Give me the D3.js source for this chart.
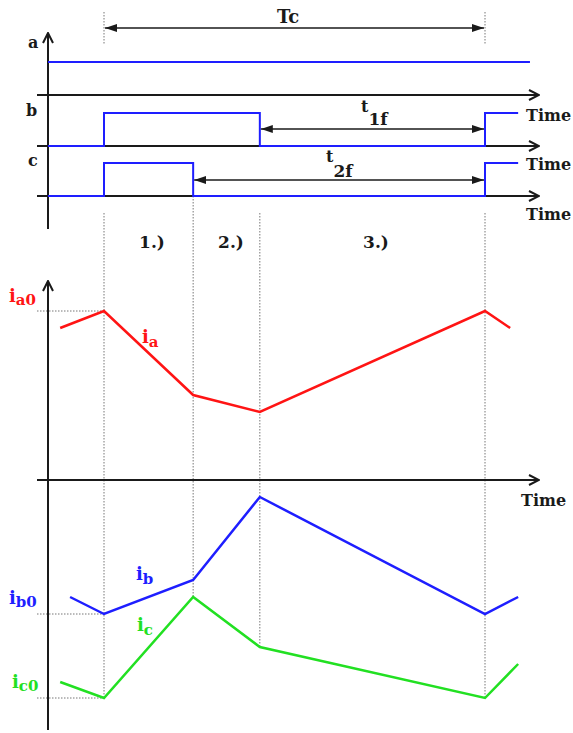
<!DOCTYPE html>
<html>
<head>
<meta charset="utf-8">
<script src="https://cdn.jsdelivr.net/npm/d3@7"></script>
<style>
  body { margin: 0; background: #fff; }
  text { font-family: "DejaVu Serif", "Liberation Serif", serif; font-weight: bold; }
</style>
</head>
<body>
<svg id="chart" width="573" height="733"></svg>
<script>
// Switching instants within one period (period Tc = 100 time units)
const tEdges = [0, 23.4, 40.9, 100];
const phaseLabels = ["1.)", "2.)", "3.)"];
const gateNames = ["a", "b", "c"];

// Gate signals as [time, level] steps
const gateA = [[-14.7, 1], [111.8, 1]];
const gateB = [[-14.7, 0], [0, 0], [0, 1], [40.9, 1], [40.9, 0], [100, 0], [100, 1], [108.7, 1]];
const gateC = [[-14.7, 0], [0, 0], [0, 1], [23.4, 1], [23.4, 0], [100, 0], [100, 1], [108.7, 1]];

// Phase currents
const iaTimes = [-11.5, 0, 23.4, 40.9, 100, 106.6];
const iaValues = [15.2, 16.9, 8.5, 6.8, 16.9, 15.2];
const ibTimes = [-8.9, 0, 23.4, 40.9, 100, 108.7];
const ibValues = [-11.7, -13.4, -10.0, -1.7, -13.4, -11.7];
const icTimes = [-11.5, 0, 23.4, 40.9, 100, 108.7];
const icValues = [-20.2, -21.8, -11.7, -16.7, -21.8, -18.4];
const initialValues = { ia0: 16.9, ib0: -13.4, ic0: -21.8 };

const RED = "#ff1414", BLUE = "#1e1eff", GREEN = "#22e022", AX = "#1a1a1a", DOT = "#777";

const svg = d3.select("#chart");

// Time scale shared by every panel
const x = d3.scaleLinear().domain([0, 100]).range([104, 485]);
const x0 = 48;        // vertical axis position
const xAxisEnd = 539; // tip of the time axes

// Gate lanes: baseline pixel and a 0/1 level scale each
const laneBase = [95, 146, 196];
const laneScales = laneBase.map(b => d3.scaleLinear().domain([0, 1]).range([b, b - 33]));

// Current panel
const yI = d3.scaleLinear().domain([0, 10]).range([480, 380]);

// Markers
const defs = svg.append("defs");
defs.append("marker").attr("id", "open").attr("viewBox", "0 0 12 12")
  .attr("refX", 11).attr("refY", 6).attr("markerWidth", 12).attr("markerHeight", 12)
  .attr("markerUnits", "userSpaceOnUse").attr("orient", "auto")
  .append("path").attr("d", "M1,1 L11,6 L1,11").attr("fill", "none")
  .attr("stroke", AX).attr("stroke-width", 2);
defs.append("marker").attr("id", "solid").attr("viewBox", "0 0 12 8")
  .attr("refX", 12).attr("refY", 4).attr("markerWidth", 12).attr("markerHeight", 8)
  .attr("markerUnits", "userSpaceOnUse").attr("orient", "auto-start-reverse")
  .append("path").attr("d", "M0,0 L12,4 L0,8 Z").attr("fill", AX);

const line = d3.line();

// Dotted guides at the switching instants
const guides = svg.append("g").attr("stroke", DOT).attr("stroke-width", 1)
  .attr("stroke-dasharray", "1.5,1.5");
[[0, 12, 45], [100, 12, 45]].forEach(([t, a, b]) =>
  guides.append("line").attr("x1", x(t)).attr("x2", x(t)).attr("y1", a).attr("y2", b));
guides.append("line").attr("x1", x(0)).attr("x2", x(0)).attr("y1", 213).attr("y2", yI(initialValues.ic0));
guides.append("line").attr("x1", x(23.4)).attr("x2", x(23.4)).attr("y1", laneBase[2]).attr("y2", yI(icValues[2]));
guides.append("line").attr("x1", x(40.9)).attr("x2", x(40.9)).attr("y1", 213).attr("y2", yI(icValues[3]));
guides.append("line").attr("x1", x(100)).attr("x2", x(100)).attr("y1", 213).attr("y2", yI(initialValues.ic0));
["ia0", "ib0", "ic0"].forEach(k =>
  guides.append("line").attr("x1", 37).attr("x2", x(0))
    .attr("y1", yI(initialValues[k])).attr("y2", yI(initialValues[k])));

// Axes
const axes = svg.append("g").attr("stroke", AX).attr("stroke-width", 2).attr("fill", "none");
axes.append("line").attr("x1", x0).attr("x2", x0).attr("y1", 229).attr("y2", 33).attr("marker-end", "url(#open)");
laneBase.forEach(b =>
  axes.append("line").attr("x1", 37).attr("x2", xAxisEnd).attr("y1", b).attr("y2", b).attr("marker-end", "url(#open)"));
axes.append("line").attr("x1", x0).attr("x2", x0).attr("y1", 730).attr("y2", 281).attr("marker-end", "url(#open)");
axes.append("line").attr("x1", 37).attr("x2", xAxisEnd).attr("y1", yI(0)).attr("y2", yI(0)).attr("marker-end", "url(#open)");

// Gate signals
[gateA, gateB, gateC].forEach((g, i) => {
  svg.append("path")
    .attr("d", line(g.map(([t, v]) => [x(t), laneScales[i](v)])))
    .attr("fill", "none").attr("stroke", BLUE).attr("stroke-width", 2);
});

// Interval arrows
const spans = [
  { from: 0, to: 100, y: 28 },
  { from: 40.9, to: 100, y: 129 },
  { from: 23.4, to: 100, y: 180 }
];
spans.forEach(s =>
  svg.append("line").attr("x1", x(s.from) + 1).attr("x2", x(s.to) - 1).attr("y1", s.y).attr("y2", s.y)
    .attr("stroke", AX).attr("stroke-width", 1.5)
    .attr("marker-start", "url(#solid)").attr("marker-end", "url(#solid)"));

// Currents
[[iaTimes, iaValues, RED], [ibTimes, ibValues, BLUE], [icTimes, icValues, GREEN]].forEach(([ts, vs, c]) =>
  svg.append("path")
    .attr("d", line(ts.map((t, i) => [x(t), yI(vs[i])])))
    .attr("fill", "none").attr("stroke", c).attr("stroke-width", 2.5).attr("stroke-linejoin", "miter"));

// Texts
const txt = (xp, yp, s, size, color) =>
  svg.append("text").attr("x", xp).attr("y", yp).attr("font-size", size).attr("fill", color || AX).text(s);

txt(277, 23, "Tc", 18);
txt(28, 48, gateNames[0], 16);
txt(26, 116, gateNames[1], 16);
txt(28, 166, gateNames[2], 16);
[121, 170, 220].forEach(yp => txt(526, yp, "Time", 16));
txt(521, 506, "Time", 16);

// phase numbers centred in their intervals
const phaseX = [152, 231, 376];
phaseLabels.forEach((p, i) => txt(phaseX[i], 248, p, 17).attr("text-anchor", "middle"));

// subscripted labels
function sub(xp, yp, base, subs, color, baseSize, subSize, dy) {
  const t = svg.append("text").attr("x", xp).attr("y", yp).attr("fill", color || AX);
  t.append("tspan").attr("font-size", baseSize).text(base);
  t.append("tspan").attr("font-size", subSize).attr("dy", dy).text(subs);
  return t;
}
sub(361, 112, "t", "1f", AX, 16, 17, 13);
sub(326, 162, "t", "2f", AX, 16, 17, 15);

sub(9, 302, "i", "a0", RED, 18, 15, 3);
sub(142, 343, "i", "a", RED, 18, 15, 4);
sub(9, 604, "i", "b0", BLUE, 18, 15, 3);
sub(136, 580, "i", "b", BLUE, 18, 15, 4);
sub(12, 688, "i", "c0", GREEN, 18, 15, 3);
sub(137, 631, "i", "c", GREEN, 18, 15, 4);
</script>
</body>
</html>
